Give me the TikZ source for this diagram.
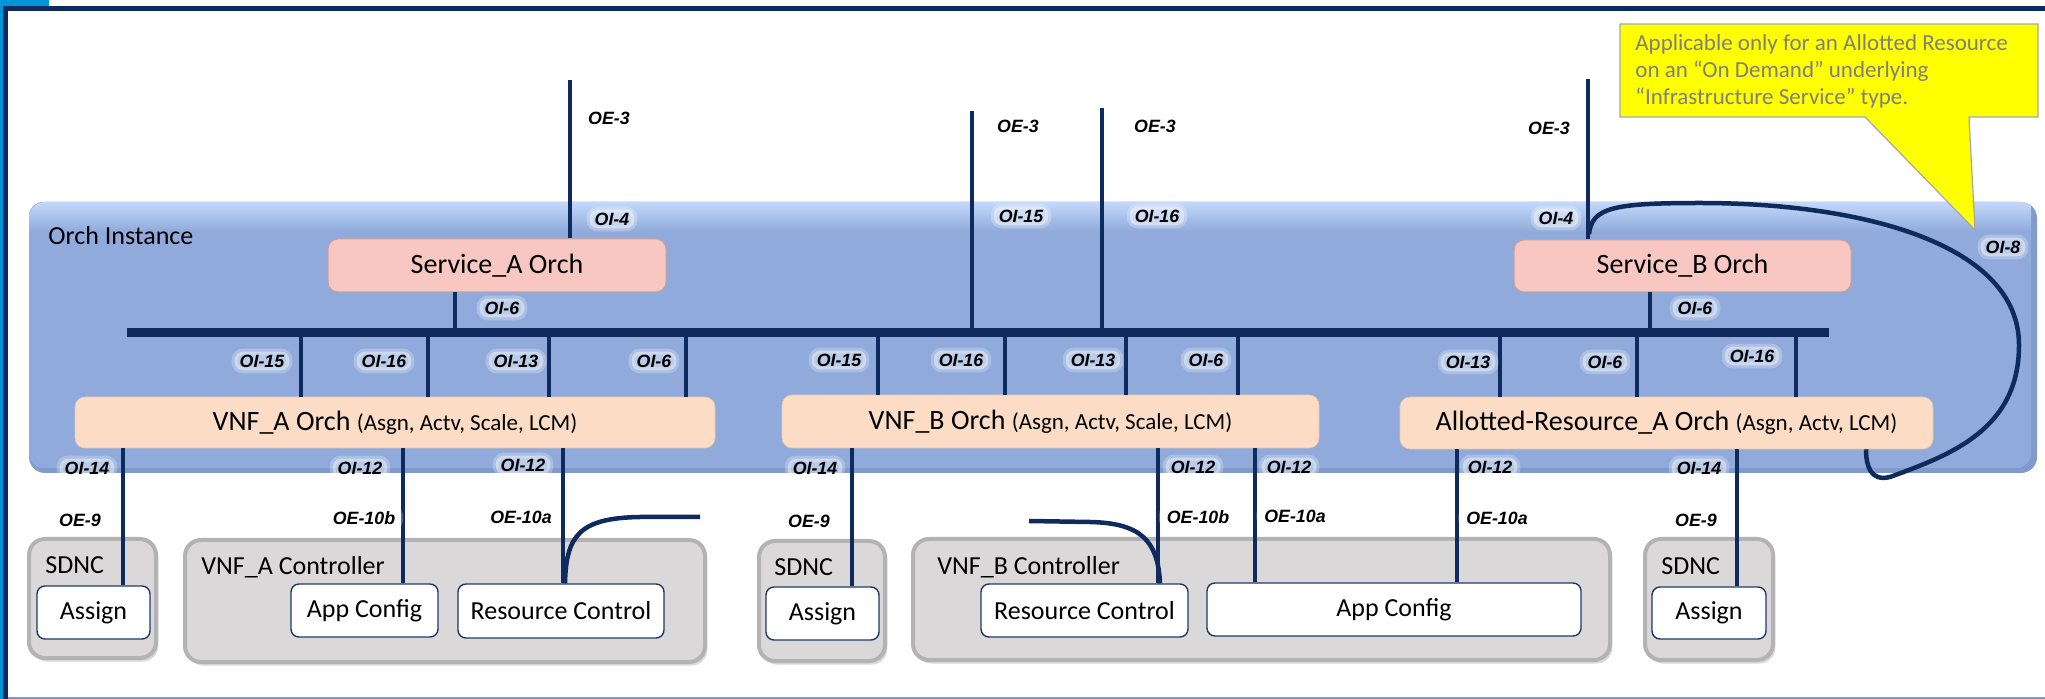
\documentclass[tikz,border=0pt]{standalone}
\usepackage{fontspec}
\setmainfont{Carlito}
\newfontfamily\lblfont{Liberation Sans}
\usetikzlibrary{calc,shadows}
\definecolor{navy}{HTML}{0F2A5C}
\definecolor{skyb}{HTML}{0096D6}
\definecolor{botl}{HTML}{8497C0}
\definecolor{panelc}{HTML}{8FAADB}
\definecolor{panelhi}{HTML}{C4D8FA}
\definecolor{paneld}{HTML}{7F9ACB}
\definecolor{pinkc}{HTML}{F8C7C1}
\definecolor{pinkb}{HTML}{C9A19C}
\definecolor{peach}{HTML}{FCDCC4}
\definecolor{peachb}{HTML}{E9C8B0}
\definecolor{greyc}{HTML}{DAD8D9}
\definecolor{greyb}{HTML}{B4B3B3}
\definecolor{boxb}{HTML}{1F3864}
\definecolor{yel}{HTML}{FFFF00}
\definecolor{calb}{HTML}{A6A6A6}
\definecolor{callt}{HTML}{7F7F7F}
\tikzset{
  conn/.style={draw=navy, line width=2.25pt},
  lbl/.style={font=\lblfont\bfseries\itshape\fontsize{8.9}{10}\selectfont, fill=white, fill opacity=0.4, draw=white, draw opacity=0.25, line width=3pt, text opacity=1, rounded corners=4pt, inner xsep=2.5pt, inner ysep=1.5pt},
  svc/.style={fill=pinkc, draw=pinkb, line width=0.5pt, rounded corners=5pt, inner sep=0pt, font=\fontsize{14}{16}\selectfont},
  vnf/.style={fill=peach, draw=peachb, line width=0.3pt, rounded corners=5pt, inner sep=0pt, font=\fontsize{14}{16}\selectfont},
  ctr/.style={fill=greyc, draw=greyb, line width=2pt, rounded corners=8pt, inner sep=0pt, drop shadow={opacity=0.3, shadow xshift=1.2pt, shadow yshift=-1.8pt}},
  wbox/.style={fill=white, draw=boxb, line width=0.7pt, rounded corners=4pt, inner sep=0pt, font=\fontsize{13}{15}\selectfont},
  ttl/.style={font=\fontsize{13}{15}\selectfont, anchor=west, inner sep=0pt},
  busbar/.style={fill=navy, inner sep=0pt, minimum height=4.5pt},
}
\newcommand{\sm}[1]{{\fontsize{11.5}{13}\selectfont #1}}
\begin{document}
\begin{tikzpicture}[x=0.5pt,y=-0.5pt]
\useasboundingbox (0,0) rectangle (2045,699);
% frame
\fill[skyb] (0,0) rectangle (49,6);
\fill[skyb] (0,0) rectangle (3,699);
\fill[navy] (3,6) rectangle (2045,11);
\fill[navy] (3,6) rectangle (8,699);
\fill[botl] (8,697) rectangle (2045,699);
% orch instance panel
\fill[paneld, rounded corners=8pt] (29,202) rectangle (2037,473);
\fill[panelc, rounded corners=7pt] (29,202) rectangle (2031,468);
\begin{scope}
\clip[rounded corners=8pt] (29,202) rectangle (2037,473);
\shade[top color=panelhi, bottom color=panelc] (29,202) rectangle (2031,232);
\end{scope}
\node[ttl] (orchinst) at (48,236) {Orch Instance};
% bus
\node[busbar, minimum width=851pt] (bus) at (978,332.5) {};
% orchestrators
\node[svc, minimum width=169pt, minimum height=26.5pt] (svcA) at (497,265.5) {Service\_A Orch};
\node[svc, minimum width=168.5pt, minimum height=26pt] (svcB) at (1682.5,266) {Service\_B Orch};
\node[vnf, minimum width=320pt, minimum height=25.5pt] (vnfA) at (395,422.5) {VNF\_A Orch \sm{(Asgn, Actv, Scale, LCM)}};
\node[vnf, minimum width=268.5pt, minimum height=26.5pt] (vnfB) at (1050.5,421.5) {VNF\_B Orch \sm{(Asgn, Actv, Scale, LCM)}};
\node[vnf, minimum width=266.5pt, minimum height=26pt] (arA) at (1666.5,423) {Allotted-Resource\_A Orch \sm{(Asgn, Actv, LCM)}};
% controllers
\node[ctr, minimum width=63.5pt, minimum height=59.5pt] (sdnc1) at (92.5,598.5) {};
\node[ttl] (sdnc1t) at (45,565) {SDNC};
\node[wbox, minimum width=56.5pt, minimum height=26.5pt] (assign1) at (93.5,612.5) {Assign};
\node[ctr, minimum width=260pt, minimum height=61pt] (ctrlA) at (445,601) {};
\node[ttl] (ctrlAt) at (201,567) {VNF\_A Controller};
\node[wbox, minimum width=73.5pt, minimum height=26.5pt] (appA) at (364.5,610.5) {App Config};
\node[wbox, minimum width=103pt, minimum height=27pt] (rcA) at (561,611) {Resource Control};
\node[ctr, minimum width=63pt, minimum height=60pt] (sdnc2) at (822,601) {};
\node[ttl] (sdnc2t) at (774,567) {SDNC};
\node[wbox, minimum width=56.5pt, minimum height=26.5pt] (assign2) at (822.5,613.5) {Assign};
\node[ctr, minimum width=348.5pt, minimum height=60.5pt] (ctrlB) at (1261.5,599.5) {};
\node[ttl] (ctrlBt) at (937,567) {VNF\_B Controller};
\node[wbox, minimum width=103.5pt, minimum height=26.5pt] (rcB) at (1084.5,610.5) {Resource Control};
\node[wbox, minimum width=187pt, minimum height=26.5pt] (appB) at (1394,609.5) {App Config};
\node[ctr, minimum width=64pt, minimum height=60.5pt] (sdnc3) at (1709,599.5) {};
\node[ttl] (sdnc3t) at (1661,566) {SDNC};
\node[wbox, minimum width=57pt, minimum height=26pt] (assign3) at (1709,613) {Assign};
% top connectors
\coordinate (oe3a) at (570,80);
\coordinate (oe3b) at (972,111);
\coordinate (oe3c) at (1102,108);
\coordinate (oe3d) at (1588,79);
\draw[conn] (oe3a) -- (svcA.north -| oe3a);
\draw[conn] (oe3b) -- (bus.center -| oe3b);
\draw[conn] (oe3c) -- (bus.center -| oe3c);
\draw[conn] (oe3d) -- (svcB.north -| oe3d);
\draw[conn] (svcA.south -| 455,0) -- (bus.center -| 455,0);
\draw[conn] (svcB.south -| 1650,0) -- (bus.center -| 1650,0);
\foreach \x in {301,428,549,686} \draw[conn] (bus.center -| \x,0) -- (vnfA.north -| \x,0);
\foreach \x in {878,1005,1126,1238} \draw[conn] (bus.center -| \x,0) -- (vnfB.north -| \x,0);
\foreach \x in {1500,1637,1796} \draw[conn] (bus.center -| \x,0) -- (arA.north -| \x,0);
% lower connectors
\draw[conn] (vnfA.south -| 123,0) -- (assign1.north -| 123,0);
\draw[conn] (vnfA.south -| 403,0) -- (appA.north -| 403,0);
\draw[conn] (vnfA.south -| 563,0) -- (rcA.north -| 563,0);
\draw[conn] (vnfB.south -| 852,0) -- (assign2.north -| 852,0);
\draw[conn] (vnfB.south -| 1158,0) -- (rcB.north -| 1158,0);
\draw[conn] (vnfB.south -| 1255,0) -- (appB.north -| 1255,0);
\draw[conn] (arA.south -| 1457,0) -- (appB.north -| 1457,0);
\draw[conn] (arA.south -| 1737,0) -- (assign3.north -| 1737,0);
% curved connectors
\coordinate (rcAend) at (700,517);
\draw[conn] (rcA.north -| 565,0) .. controls (566,535) and (580,518) .. (640,517) -- (rcAend);
\coordinate (rcBend) at (1029,521);
\draw[conn] (rcBend) -- (1090,522) .. controls (1140,523) and (1158,540) .. (rcB.north -| 1160,0);
\coordinate (oi8s) at (1589,234);
\draw[conn] (oi8s) .. controls (1592,208) and (1612,203) .. (1700,203)
  .. controls (1865,203) and (2019,245) .. (2019,345)
  .. controls (2019,430) and (1950,455) .. (1890,477)
  .. controls (1870,482) and (1866,465) .. (arA.south -| 1866,0);
% labels
\node[lbl] (l1) at (609,118) {OE-3};
\node[lbl] (l2) at (612,219) {OI-4};
\node[lbl] (l3) at (502,308) {OI-6};
\node[lbl] (l4) at (1018,126) {OE-3};
\node[lbl] (l5) at (1155,126) {OE-3};
\node[lbl] (l6) at (1021,216) {OI-15};
\node[lbl] (l7) at (1157,216) {OI-16};
\node[lbl] (l8) at (1549,128) {OE-3};
\node[lbl] (l9) at (1556,218) {OI-4};
\node[lbl] (l10) at (1695,308) {OI-6};
\node[lbl] (l11) at (2003,247) {OI-8};
\node[lbl] (l12) at (262,361) {OI-15};
\node[lbl] (l13) at (384,361) {OI-16};
\node[lbl] (l14) at (516,361) {OI-13};
\node[lbl] (l15) at (654,361) {OI-6};
\node[lbl] (l16) at (839,360) {OI-15};
\node[lbl] (l17) at (961,360) {OI-16};
\node[lbl] (l18) at (1093,360) {OI-13};
\node[lbl] (l19) at (1206,360) {OI-6};
\node[lbl] (l20) at (1468,362) {OI-13};
\node[lbl] (l21) at (1605,362) {OI-6};
\node[lbl] (l22) at (1752,356) {OI-16};
\node[lbl] (l23) at (87,468) {OI-14};
\node[lbl] (l24) at (80,520) {OE-9};
\node[lbl] (l25) at (360,468) {OI-12};
\node[lbl] (l26) at (364,518) {OE-10b};
\node[lbl] (l27) at (523,465) {OI-12};
\node[lbl] (l28) at (521,517) {OE-10a};
\node[lbl] (l29) at (815,468) {OI-14};
\node[lbl] (l30) at (809,521) {OE-9};
\node[lbl] (l31) at (1193,467) {OI-12};
\node[lbl] (l32) at (1198,517) {OE-10b};
\node[lbl] (l33) at (1289,467) {OI-12};
\node[lbl] (l34) at (1295,516) {OE-10a};
\node[lbl] (l35) at (1490,467) {OI-12};
\node[lbl] (l36) at (1497,518) {OE-10a};
\node[lbl] (l37) at (1699,468) {OI-14};
\node[lbl] (l38) at (1696,520) {OE-9};
% callout
\path[fill=yel, draw=calb, line width=0.6pt] (1620,24) -- (2038,24) -- (2038,117) -- (1969,117) -- (1975,230) -- (1865,117) -- (1620,117) -- cycle;
\node[anchor=north west, align=left, text=callt, font=\fontsize{11.5}{13.5}\selectfont, inner sep=0pt] (note) at (1635,34) {Applicable only for an Allotted Resource\\on an “On Demand” underlying\\“Infrastructure Service” type.};
\end{tikzpicture}
\end{document}
